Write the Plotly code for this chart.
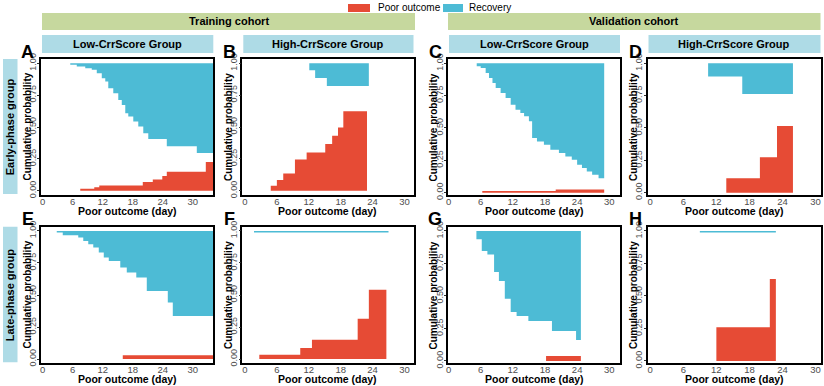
import plotly.graph_objects as go

# ---------------- data ----------------
# Each panel: Poor outcome cumulative incidence (steps) and Recovery cumulative incidence (steps)
A_poor_t = [7.5, 10.3, 11.3, 20.0, 22.0, 23.9, 24.8, 32.6]
A_poor_p = [0.016, 0.027, 0.042, 0.068, 0.089, 0.115, 0.149, 0.225]
A_poor_end = 34.1
A_rec_t = [5.5, 6.8, 8.5, 9.8, 10.8, 11.8, 12.5, 13.1, 14.1, 15.1, 15.8, 16.5, 17.1, 18.1, 19.1, 20.1, 21.1, 24.8, 30.8]
A_rec_p = [0.013, 0.026, 0.039, 0.052, 0.078, 0.118, 0.144, 0.196, 0.235, 0.288, 0.327, 0.392, 0.418, 0.457, 0.496, 0.549, 0.595, 0.650, 0.704]
A_rec_end = 34.1

B_poor_t = [4.85, 6.0, 7.2, 9.4, 11.6, 15.1, 16.4, 17.5, 18.5]
B_poor_p = [0.039, 0.084, 0.136, 0.246, 0.300, 0.366, 0.431, 0.496, 0.624]
B_poor_end = 22.96
B_rec_t = [12.1, 13.2, 15.4]
B_rec_p = [0.055, 0.115, 0.178]
B_rec_end = 23.3

C_poor_t = [6.3, 20.0]
C_poor_p = [0.012, 0.025]
C_poor_end = 29.05
C_rec_t = [5.26, 6.0, 6.93, 7.55, 8.2, 8.8, 9.72, 10.65, 11.6, 12.5, 13.4, 14.1, 15.0, 15.6, 16.5, 17.8, 19.0, 20.6, 21.8, 23.0, 24.0, 24.9, 25.8, 26.8, 28.0]
C_rec_p = [0.023, 0.036, 0.075, 0.114, 0.152, 0.191, 0.230, 0.269, 0.320, 0.359, 0.385, 0.410, 0.449, 0.578, 0.604, 0.630, 0.669, 0.694, 0.720, 0.746, 0.785, 0.810, 0.836, 0.862, 0.888]
C_rec_end = 29.05

D_poor_t = [13.8, 19.9, 23.0]
D_poor_p = [0.111, 0.274, 0.516]
D_poor_end = 25.9
D_rec_t = [10.5, 16.7]
D_rec_p = [0.103, 0.237]
D_rec_end = 25.9

E_poor_t = [16.0]
E_poor_p = [0.030]
E_poor_end = 34.1
E_rec_t = [2.8, 4.0, 7.1, 8.1, 9.1, 10.1, 11.2, 12.2, 13.2, 15.5, 16.8, 18.7, 20.8, 25.0, 26.0]
E_rec_p = [0.013, 0.034, 0.052, 0.078, 0.104, 0.130, 0.169, 0.208, 0.234, 0.286, 0.325, 0.364, 0.468, 0.559, 0.663]
E_rec_end = 34.1

F_poor_t = [2.7, 10.4, 12.6, 21.2, 23.3]
F_poor_p = [0.034, 0.086, 0.150, 0.314, 0.540]
F_poor_end = 26.6
F_rec_t = [1.7]
F_rec_p = [0.012]
F_rec_end = 27.0

G_poor_t = [18.2]
G_poor_p = [0.038]
G_poor_end = 24.7
G_rec_t = [5.2, 6.2, 7.25, 8.5, 9.4, 10.5, 11.6, 12.7, 14.9, 19.3, 23.8]
G_rec_p = [0.064, 0.154, 0.180, 0.315, 0.385, 0.521, 0.623, 0.654, 0.692, 0.769, 0.838]
G_rec_end = 24.7

H_poor_t = [12.0, 21.7]
H_poor_p = [0.259, 0.630]
H_poor_end = 22.8
H_rec_t = [9.0]
H_rec_p = [0.012]
H_rec_end = 22.8

panel_letters = ["A", "B", "C", "D", "E", "F", "G", "H"]
cohort_labels = ["Training cohort", "Validation cohort"]
group_labels = ["Low-CrrScore Group", "High-CrrScore Group"]
phase_labels = ["Early-phase group", "Late-phase group"]
series_names = ["Poor outcome", "Recovery"]
x_ticks = [0, 6, 12, 18, 24, 30]
y_ticks = [0, 0.25, 0.5, 0.75, 1.0]
y_ticktext = ["0.00", "0.25", "0.50", "0.75", "1.00"]

# ---------------- styling / layout ----------------
W, H = 824, 386
RED = "#E64B35"
BLUE = "#4DBBD5"
GREEN_STRIP = "#C6D89E"
BLUE_STRIP = "#AEDBE6"
FONT = "Liberation Sans, Arial, sans-serif"

def px(x):
    return x / W

def py(y):
    return 1 - y / H

col_dom = [(41.0, 213.3), (242.3, 413.5), (448.0, 620.0), (647.5, 820.5)]
row_dom = [(59.0, 195.0), (226.7, 363.3)]
col_xrange = [(-0.35, 34.1), (-0.5, 31.7), (-0.1, 32.0), (-0.5, 30.9)]
col_yrange = [(-0.033, 1.033), (-0.033, 1.033), (-0.018, 1.033), (-0.018, 1.033)]
letter_x = [27.5, 229.5, 435.0, 635.5]
ytitle_x = [26.5, 228.0, 432.5, 633.0]

panels = [
    (A_poor_t, A_poor_p, A_poor_end, A_rec_t, A_rec_p, A_rec_end),
    (B_poor_t, B_poor_p, B_poor_end, B_rec_t, B_rec_p, B_rec_end),
    (C_poor_t, C_poor_p, C_poor_end, C_rec_t, C_rec_p, C_rec_end),
    (D_poor_t, D_poor_p, D_poor_end, D_rec_t, D_rec_p, D_rec_end),
    (E_poor_t, E_poor_p, E_poor_end, E_rec_t, E_rec_p, E_rec_end),
    (F_poor_t, F_poor_p, F_poor_end, F_rec_t, F_rec_p, F_rec_end),
    (G_poor_t, G_poor_p, G_poor_end, G_rec_t, G_rec_p, G_rec_end),
    (H_poor_t, H_poor_p, H_poor_end, H_rec_t, H_rec_p, H_rec_end),
]


def step_poly(times, probs, end, from_top):
    base = 1.0 if from_top else 0.0
    xs = [times[0]]
    ys = [base]
    for i, (t, p) in enumerate(zip(times, probs)):
        v = 1 - p if from_top else p
        nxt = times[i + 1] if i + 1 < len(times) else end
        xs += [t, nxt]
        ys += [v, v]
    xs.append(end)
    ys.append(base)
    return xs, ys


fig = go.Figure()
layout = dict(
    width=W, height=H, autosize=False,
    margin=dict(l=0, r=0, t=0, b=0, pad=0, autoexpand=False),
    paper_bgcolor="white", plot_bgcolor="white",
    showlegend=False,
    font=dict(family=FONT, color="#333333"),
)
annotations = []
shapes = []

for idx, pdata in enumerate(panels):
    r, c = divmod(idx, 4)
    n = idx + 1
    xa = "x" if n == 1 else f"x{n}"
    ya = "y" if n == 1 else f"y{n}"
    pt, pp, pe, rt, rp, re_ = pdata
    xs, ys = step_poly(pt, pp, pe, False)
    fig.add_trace(go.Scatter(x=xs, y=ys, mode="lines", fill="toself", fillcolor=RED,
                             line=dict(width=0, color=RED), xaxis=xa, yaxis=ya,
                             hoverinfo="skip", name=series_names[0]))
    xs, ys = step_poly(rt, rp, re_, True)
    fig.add_trace(go.Scatter(x=xs, y=ys, mode="lines", fill="toself", fillcolor=BLUE,
                             line=dict(width=0, color=BLUE), xaxis=xa, yaxis=ya,
                             hoverinfo="skip", name=series_names[1]))
    x0, x1 = col_dom[c]
    y0, y1 = row_dom[r]
    common = dict(showline=True, mirror=True, linecolor="black", linewidth=1.5,
                  showgrid=False, zeroline=False, automargin=False)
    layout["xaxis" if n == 1 else f"xaxis{n}"] = dict(
        domain=[px(x0), px(x1)], range=list(col_xrange[c]), anchor=ya,
        tickvals=x_ticks, tickfont=dict(size=9.5, color="#4D4D4D", family=FONT),
        ticks="", ticklabelstandoff=-3, **common)
    layout["yaxis" if n == 1 else f"yaxis{n}"] = dict(
        domain=[py(y1), py(y0)], range=list(col_yrange[c]), anchor=xa,
        tickvals=y_ticks, ticktext=y_ticktext, tickangle=-90,
        tickfont=dict(size=9, color="#4D4D4D", family=FONT),
        ticks="outside", ticklen=2, tickcolor="#333333", tickwidth=1,
        ticklabelstandoff=-2, **common)
    # axis titles
    annotations.append(dict(text="<b>Cumulative probability</b>", textangle=-90,
                            x=px(ytitle_x[c]), y=py((y0 + y1) / 2), xref="paper", yref="paper",
                            showarrow=False, xanchor="center", yanchor="middle",
                            font=dict(size=10, color="black", family=FONT)))
    annotations.append(dict(text="<b>Poor outcome (day)</b>",
                            x=px((x0 + x1) / 2), y=py(y1 + 15.5), xref="paper", yref="paper",
                            showarrow=False, xanchor="center", yanchor="middle",
                            font=dict(size=10.5, color="black", family=FONT)))
    # panel letter
    annotations.append(dict(text=f"<b>{panel_letters[idx]}</b>",
                            x=px(letter_x[c]), y=py(y0 - 7.5), xref="paper", yref="paper",
                            showarrow=False, xanchor="center", yanchor="middle",
                            font=dict(size=18, color="black", family=FONT)))

# cohort strips
for k, (a, b) in enumerate([(42, 415), (448, 820.5)]):
    shapes.append(dict(type="rect", xref="paper", yref="paper", x0=px(a), x1=px(b),
                       y0=py(30), y1=py(13), fillcolor=GREEN_STRIP, line=dict(width=0), layer="below"))
    annotations.append(dict(text=f"<b>{cohort_labels[k]}</b>", x=px((a + b) / 2), y=py(21.5),
                            xref="paper", yref="paper", showarrow=False,
                            xanchor="center", yanchor="middle",
                            font=dict(size=11, color="black", family=FONT)))
# group strips
for c in range(4):
    a, b = col_dom[c]
    shapes.append(dict(type="rect", xref="paper", yref="paper", x0=px(a + 1), x1=px(b),
                       y0=py(53), y1=py(35), fillcolor=BLUE_STRIP, line=dict(width=0), layer="below"))
    annotations.append(dict(text=f"<b>{group_labels[c % 2]}</b>", x=px((a + b) / 2), y=py(44),
                            xref="paper", yref="paper", showarrow=False,
                            xanchor="center", yanchor="middle",
                            font=dict(size=11, color="black", family=FONT)))
# phase strips
for r in range(2):
    a, b = row_dom[r]
    shapes.append(dict(type="rect", xref="paper", yref="paper", x0=px(3), x1=px(17.5),
                       y0=py(b - 1), y1=py(a), fillcolor=BLUE_STRIP, line=dict(width=0), layer="below"))
    annotations.append(dict(text=f"<b>{phase_labels[r]}</b>", textangle=-90,
                            x=px(10.3), y=py((a + b) / 2), xref="paper", yref="paper",
                            xanchor="center", yanchor="middle",
                            showarrow=False, font=dict(size=11, color="black", family=FONT)))

# legend
for (a, b, tx, col, name) in [(348, 370, 376, RED, series_names[0]), (443, 463, 467, BLUE, series_names[1])]:
    shapes.append(dict(type="rect", xref="paper", yref="paper", x0=px(a), x1=px(b),
                       y0=py(12), y1=py(4), fillcolor=col, line=dict(width=0)))
    annotations.append(dict(text=name, x=px(tx), y=py(8), xref="paper", yref="paper",
                            xanchor="left", yanchor="middle", showarrow=False,
                            font=dict(size=10, color="black", family=FONT)))

layout["annotations"] = annotations
layout["shapes"] = shapes
fig.update_layout(**layout)
fig.write_html("out.html", config={"displayModeBar": False},
               post_script="document.body.style.margin='0px';document.body.style.padding='0px';")
